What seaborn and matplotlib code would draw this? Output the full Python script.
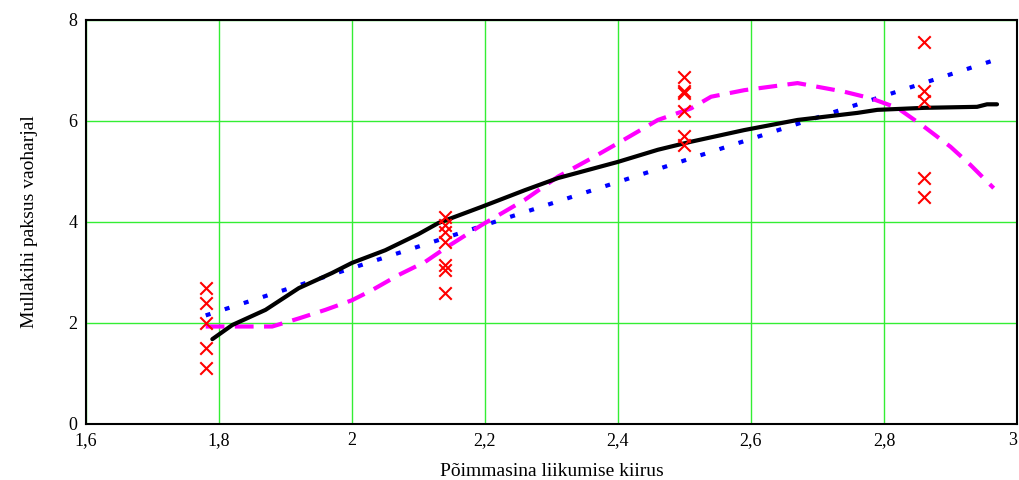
import pandas as pd
import matplotlib.pyplot as plt
import seaborn as sns
from matplotlib.ticker import FuncFormatter

# measured points (speed vs. soil layer thickness)
obs_x = [1.78] * 5 + [2.14] * 7 + [2.5] * 6 + [2.86] * 5
obs_y = [2.7, 2.4, 2.0, 1.5, 1.1,
         4.1, 3.94, 3.8, 3.6, 3.15, 3.05, 2.6,
         6.88, 6.6, 6.55, 6.2, 5.7, 5.52,
         7.57, 6.6, 6.4, 4.87, 4.5]

# linear trend (blue dotted)
lin_x = [1.78, 2.965]
lin_y = [2.15, 7.2]

# smoothed curve (black)
smooth_x = [1.79, 1.82, 1.87, 1.92, 1.97, 2.0, 2.05, 2.10, 2.13, 2.195, 2.26, 2.31,
            2.40, 2.46, 2.51, 2.59, 2.67, 2.76, 2.79, 2.86, 2.94, 2.955, 2.97]
smooth_y = [1.68, 1.96, 2.26, 2.69, 2.99, 3.19, 3.44, 3.76, 3.98, 4.30, 4.63, 4.87,
            5.19, 5.43, 5.59, 5.82, 6.02, 6.16, 6.22, 6.26, 6.28, 6.33, 6.33]

# polynomial fit (magenta dashed)
poly_x = [1.78, 1.88, 1.92, 1.96, 2.0, 2.03, 2.07, 2.11, 2.14, 2.195, 2.26, 2.31,
          2.36, 2.40, 2.46, 2.51, 2.54, 2.59, 2.67, 2.74, 2.78, 2.82, 2.86, 2.90,
          2.93, 2.965]
poly_y = [1.93, 1.93, 2.09, 2.26, 2.45, 2.65, 2.95, 3.21, 3.48, 3.94, 4.44, 4.90,
          5.26, 5.56, 6.02, 6.25, 6.48, 6.61, 6.75, 6.58, 6.45, 6.26, 5.89, 5.49,
          5.13, 4.67]

sns.set_theme(style="white")
plt.rcParams['font.family'] = ['Liberation Serif', 'DejaVu Serif']

fig = plt.figure(figsize=(10.19, 4.8), dpi=100)
ax = fig.add_axes([0.0844, 0.1167, 0.9136, 0.8417])

sns.lineplot(x=lin_x, y=lin_y, ax=ax, color='#0000ff', linewidth=3,
             linestyle=(0, (1.2, 3.6)), zorder=3)
sns.lineplot(x=poly_x, y=poly_y, ax=ax, color='#ff00ff', linewidth=3,
             linestyle=(0, (4.5, 2.5)), sort=False, zorder=3)
sns.lineplot(x=smooth_x, y=smooth_y, ax=ax, color='black', linewidth=3,
             sort=False, zorder=4)
sns.scatterplot(x=obs_x, y=obs_y, ax=ax, marker='x', color='#ff0000', s=80,
                linewidth=1.5, zorder=5)

ax.set_xlim(1.6, 3.0)
ax.set_ylim(0, 8)
ax.set_xticks([1.6, 1.8, 2.0, 2.2, 2.4, 2.6, 2.8, 3.0])
ax.set_yticks([0, 2, 4, 6, 8])
fmt = FuncFormatter(lambda v, p: ('%g' % round(v, 1)).replace('.', ','))
ax.xaxis.set_major_formatter(fmt)
ax.yaxis.set_major_formatter(fmt)
ax.grid(True, color='#33ee33', linewidth=1)
ax.set_axisbelow(True)
for s in ax.spines.values():
    s.set_color('black')
    s.set_linewidth(1.5)
ax.tick_params(axis='both', labelsize=13, length=0, pad=6, colors='black')
# keep the last x tick label inside the figure
ax.get_xticklabels()[-1].set_horizontalalignment('right')
ax.set_xlabel('Põimmasina liikumise kiirus', fontsize=14, labelpad=10, color='black')
ax.set_ylabel('Mullakihi paksus vaoharjal', fontsize=14, labelpad=22, color='black')

fig.savefig('out.png', dpi=100)
